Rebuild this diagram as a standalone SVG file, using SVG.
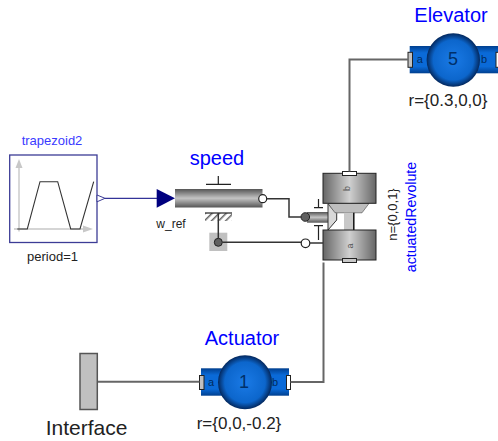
<svg xmlns="http://www.w3.org/2000/svg" width="498" height="441" viewBox="0 0 498 441">
<style>
text{font-family:"Liberation Sans",Arial,sans-serif}
.blue{fill:#0000ff}
.blk{fill:#222}
.conn{fill:none;stroke:#666;stroke-width:2}
.dark{fill:none;stroke:#333;stroke-width:1.5}
.sig{fill:none;stroke:#00007f;stroke-width:1}
.thin{fill:none;stroke:#222;stroke-width:1.2}
.lbl{font-size:11px;fill:#002a60}
</style>
<defs>
<linearGradient id="vg" x1="0" y1="0" x2="0" y2="1"><stop offset="0" stop-color="#555"/><stop offset=".5" stop-color="#c4c4c4"/><stop offset="1" stop-color="#555"/></linearGradient>
<linearGradient id="hg" x1="0" y1="0" x2="1" y2="0"><stop offset="0" stop-color="#666"/><stop offset=".5" stop-color="#d0d0d0"/><stop offset="1" stop-color="#666"/></linearGradient>
<linearGradient id="bb" x1="0" y1="0" x2="0" y2="1"><stop offset="0" stop-color="#003f8f"/><stop offset=".25" stop-color="#0a6ad8"/><stop offset=".75" stop-color="#0a6ad8"/><stop offset="1" stop-color="#003f8f"/></linearGradient>
<radialGradient id="sph" cx=".5" cy=".5" r=".5"><stop offset="0" stop-color="#1a7ae6"/><stop offset=".75" stop-color="#0c66cc"/><stop offset="1" stop-color="#03285e"/></radialGradient>
<pattern id="hatch" width="5" height="5" patternUnits="userSpaceOnUse" patternTransform="rotate(-45)"><rect width="5" height="5" fill="#fff"/><rect width="5" height="1.500" fill="#666"/></pattern>
</defs>
<g id="trapezoid2">
<rect x="9.700" y="155" width="87.300" height="87.500" fill="#fff" stroke="#3c3c96" stroke-width="1.300"/>
<path d="M19 165V231.500M14 229H88" fill="none" stroke="#c8c8c8" stroke-width="1.400"/>
<path d="M19 159L15.500 168H22.500ZM93 229L83 225.500V232.500Z" fill="#c8c8c8"/>
<path d="M17.300 229H27.300L40 181.700H57.700L70.700 229H80L93.700 181.700" fill="none" stroke="#333" stroke-width="1.100"/>
<path d="M97 195L105 198.300L97 201.800Z" fill="#fff" stroke="#3c3c96"/>
<text x="52" y="145" text-anchor="middle" font-size="13" style="fill:#3a3aff">trapezoid2</text>
<text x="52.500" y="261" text-anchor="middle" font-size="13" class="blk">period=1</text>
</g>
<g id="speed">
<path d="M156.700 189L175 198.300L156.700 207.700Z" fill="#00007f"/>
<rect x="175" y="189" width="87.500" height="18.500" fill="url(#vg)"/>
<path d="M218.300 176V184.300M206 184.300H231" class="thin"/>
<rect x="205" y="213" width="27" height="8" fill="url(#hatch)"/>
<path d="M205 213H232" class="thin"/>
<rect x="209.300" y="232.700" width="18" height="18.300" fill="#c0c0c0"/>
<circle cx="218.300" cy="242.300" r="4" fill="#606060" stroke="#222" stroke-width="1"/>
<circle cx="262.700" cy="198.700" r="4" fill="#fff" stroke="#222" stroke-width="1.200"/>
<text x="217" y="165" text-anchor="middle" font-size="20" class="blue">speed</text>
<text x="171" y="228" text-anchor="middle" font-size="12" class="blk">w_ref</text>
</g>
<g id="actuatedRevolute">
<rect x="307" y="212" width="21" height="10.700" fill="url(#vg)"/>
<path d="M318.500 199V207.700M314 207.700H323M318.500 240V225.700M314 225.700H323" class="thin"/>
<path d="M328 204L336.700 213.300V220L328 230Z" fill="#d8d8d8" stroke="#333" stroke-width="1"/>
<path d="M328 203.500H369L362 212.800H335Z" fill="#bdbdbd" stroke="#444" stroke-width=".6"/>
<rect x="344" y="212.800" width="9.500" height="17.200" fill="#c8c8c8"/>
<path d="M353.800 212.800V230" stroke="#111" stroke-width="1.500"/>
<rect x="323" y="173.300" width="53" height="30" fill="url(#hg)" stroke="#222" stroke-width="1"/>
<rect x="323" y="230" width="53" height="30" fill="url(#hg)" stroke="#222" stroke-width="1"/>
<rect x="342.500" y="171.500" width="14" height="4" fill="#fff" stroke="#222" stroke-width="1"/>
<rect x="342.500" y="258.500" width="14" height="4" fill="#c8c8c8" stroke="#222" stroke-width="1"/>
<circle cx="305.300" cy="217" r="4.300" fill="#606060" stroke="#222" stroke-width="1"/>
<circle cx="305.500" cy="243.300" r="4.300" fill="#fff" stroke="#222" stroke-width="1.200"/>
<text transform="translate(349.500 188.500) rotate(-90)" text-anchor="middle" font-size="9" fill="#555">b</text>
<text transform="translate(353 246) rotate(-90)" text-anchor="middle" font-size="9" fill="#555">a</text>
<text transform="translate(396.500 214.500) rotate(-90)" text-anchor="middle" font-size="13" class="blk">n={0,0,1}</text>
<text transform="translate(415.500 217) rotate(-90)" text-anchor="middle" font-size="14.200" class="blue">actuatedRevolute</text>
</g>
<g id="Elevator">
<rect x="409.700" y="46" width="88.300" height="27.300" fill="url(#bb)"/>
<rect x="408" y="52.300" width="4.500" height="15" fill="#c0c0c0" stroke="#222" stroke-width="1"/>
<rect x="496" y="52.300" width="4" height="15" fill="#fff" stroke="#222" stroke-width="1"/>
<circle cx="453.300" cy="60" r="26.700" fill="url(#sph)"/>
<text x="419.700" y="63" text-anchor="middle" class="lbl">a</text>
<text x="484" y="63" text-anchor="middle" class="lbl">b</text>
<text x="453" y="65" text-anchor="middle" font-size="18" fill="#00306a">5</text>
<text x="451" y="22" text-anchor="middle" font-size="20" class="blue">Elevator</text>
<text x="448" y="106" text-anchor="middle" font-size="17" class="blk">r={0.3,0,0}</text>
</g>
<g id="Actuator">
<rect x="201" y="368.300" width="88" height="27.400" fill="url(#bb)"/>
<rect x="199.500" y="375.500" width="4.500" height="14" fill="#c0c0c0" stroke="#222" stroke-width="1"/>
<rect x="286.500" y="375.500" width="4" height="14" fill="#fff" stroke="#222" stroke-width="1"/>
<circle cx="245" cy="382.300" r="27" fill="url(#sph)"/>
<text x="211" y="386" text-anchor="middle" class="lbl">a</text>
<text x="275" y="386" text-anchor="middle" class="lbl">b</text>
<text x="244" y="388" text-anchor="middle" font-size="18" fill="#00306a">1</text>
<text x="242" y="345" text-anchor="middle" font-size="20" class="blue">Actuator</text>
<text x="239" y="429" text-anchor="middle" font-size="17" class="blk">r={0,0,-0.2}</text>
</g>
<g id="Interface">
<rect x="80" y="353.500" width="17.300" height="56" fill="#c0c0c0" stroke="#555" stroke-width="1.500"/>
<text x="86.500" y="435" text-anchor="middle" font-size="21" class="blk">Interface</text>
</g>
<g id="connectors">
<path class="sig" d="M105 198.300H157"/>
<path class="dark" d="M267 198.700H289V217H301"/>
<path class="dark" d="M218.300 213V238.300"/>
<path class="dark" d="M222.300 242.300H301"/>
<path class="dark" d="M310 243H323"/>
<path class="conn" d="M349.500 171.500V59.500H408"/>
<path class="conn" d="M290.500 382H323.500V262.500"/>
<path class="conn" d="M98 381.700H199.500"/>
</g>
</svg>
